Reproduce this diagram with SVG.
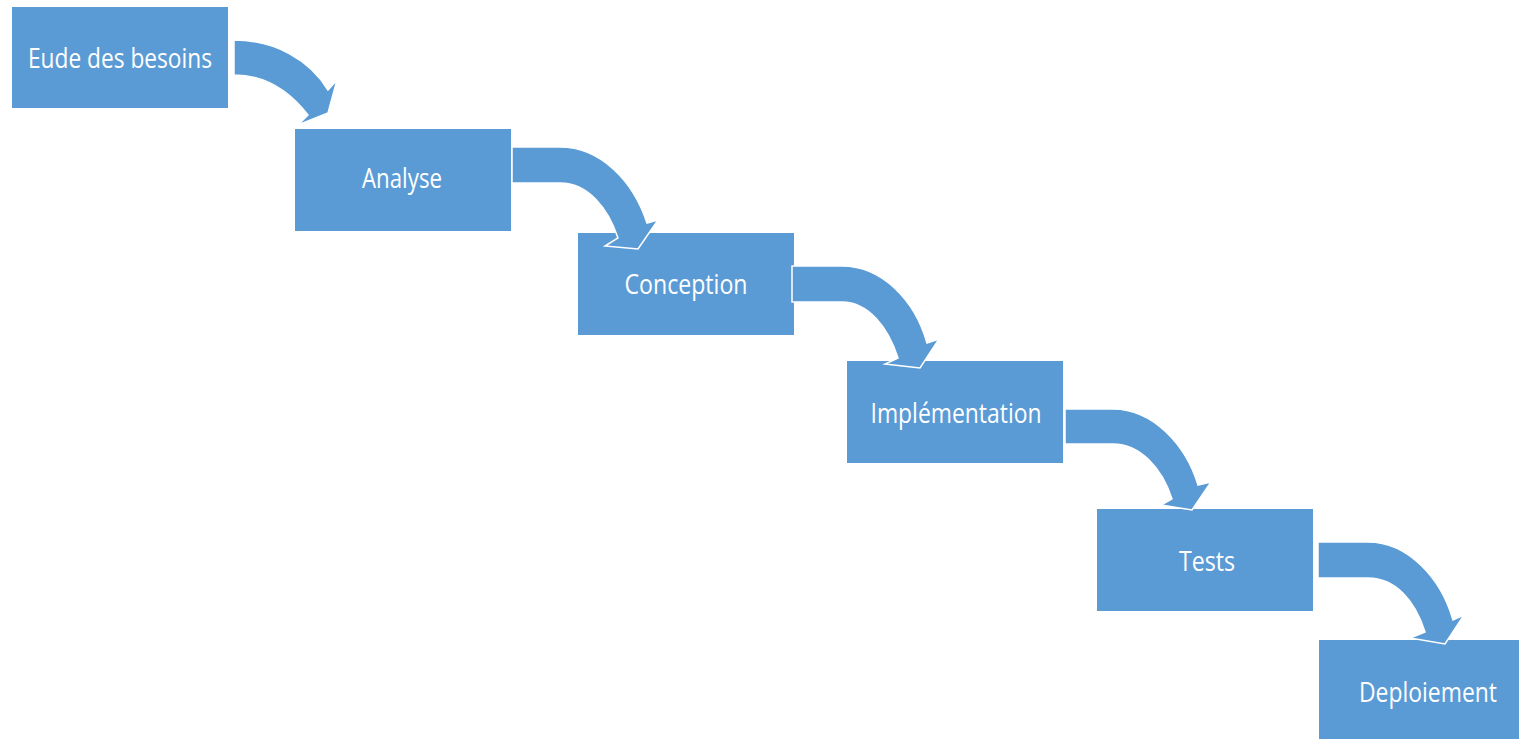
<svg xmlns="http://www.w3.org/2000/svg" width="1519" height="739" viewBox="0 0 1519 739">
<style>
.box{fill:#5B9BD5;}
.lbl{fill:#ffffff;font-family:"Open Sans","Liberation Sans",sans-serif;font-size:27px;text-anchor:middle;}
.arr{fill:#5B9BD5;stroke:#ffffff;stroke-width:1.5;stroke-linejoin:miter;}
</style>
<rect width="1519" height="739" fill="#ffffff"/>
<g id="node-besoins">
<rect class="box" x="12" y="7" width="216" height="101"/>
<text class="lbl" x="120" y="68" textLength="184" lengthAdjust="spacingAndGlyphs">Eude des besoins</text>
</g>
<g id="node-analyse">
<rect class="box" x="295" y="129" width="216" height="102"/>
<text class="lbl" x="402" y="188" textLength="80" lengthAdjust="spacingAndGlyphs">Analyse</text>
</g>
<g id="node-conception">
<rect class="box" x="578" y="233" width="216" height="102"/>
<text class="lbl" x="686" y="294" textLength="123" lengthAdjust="spacingAndGlyphs">Conception</text>
</g>
<g id="node-implementation">
<rect class="box" x="847" y="361" width="216" height="102"/>
<text class="lbl" x="956" y="423" textLength="171" lengthAdjust="spacingAndGlyphs">Implémentation</text>
</g>
<g id="node-tests">
<rect class="box" x="1097" y="509" width="216" height="102"/>
<text class="lbl" x="1207" y="571" textLength="56" lengthAdjust="spacingAndGlyphs">Tests</text>
</g>
<g id="node-deploiement">
<rect class="box" x="1319" y="640" width="200" height="99"/>
<text class="lbl" x="1428" y="702" textLength="138" lengthAdjust="spacingAndGlyphs">Deploiement</text>
</g>
<g id="connectors">
<path class="arr" d="M234,40 C275,40 310,60 328,90 L337,80 L328,113 L298,125 L308,115 C290,92 265,75 234,75 Z"/>
<path class="arr" d="M512,147 L560,147 C600,147 633,180 647,223 L658,220 L638,249 L605,246 L618,238 C608,208 588,183 560,183 L512,183 Z"/>
<path class="arr" d="M792,266 L842,266 C882,266 915,300 927,343 L939,339 L920,368 L885,364 L898,358 C888,327 868,302 842,302 L792,302 Z"/>
<path class="arr" d="M1065,409 L1113,409 C1153,409 1186,445 1198,485 L1211,482 L1192,510 L1161,505 L1172,499 C1162,468 1140,444 1113,444 L1065,444 Z"/>
<path class="arr" d="M1318,542 L1368,542 C1408,542 1441,578 1453,620 L1464,615 L1445,644 L1410,638 L1425,632 C1415,600 1395,578 1368,578 L1318,578 Z"/>
</g>
</svg>
